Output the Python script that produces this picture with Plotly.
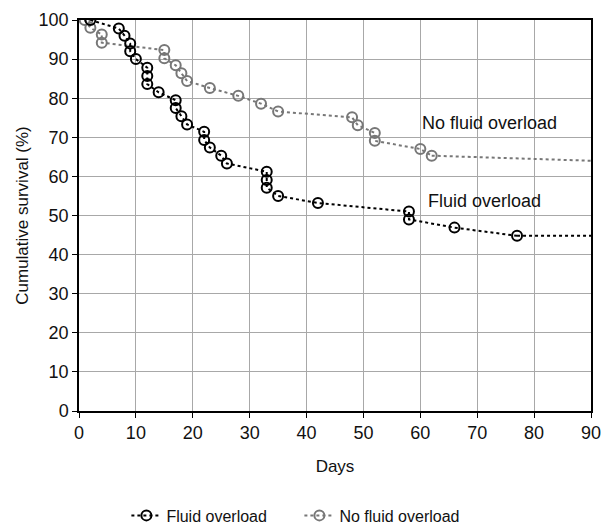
import plotly.graph_objects as go

# Fluid overload series (days, cumulative survival %)
fo_days = [2, 7, 8, 9, 9, 10, 12, 12, 12, 14, 17, 17, 18, 19, 22, 22, 23, 25, 26,
           33, 33, 33, 35, 42, 58, 58, 66, 77, 90]
fo_surv = [100, 97.8, 96, 94, 92, 90, 87.8, 85.7, 83.6, 81.5, 79.5, 77.5, 75.4, 73.3,
           71.4, 69.3, 67.4, 65.3, 63.3, 61.2, 59.1, 57.1, 55, 53.2, 51, 49, 46.9, 44.8, 44.8]

# No fluid overload series
nfo_days = [1, 2, 4, 4, 15, 15, 17, 18, 19, 23, 28, 32, 35, 48, 49, 52, 52, 60, 62, 90]
nfo_surv = [100, 98, 96.3, 94.2, 92.3, 90.2, 88.4, 86.4, 84.4, 82.6, 80.6, 78.6, 76.6,
            75.1, 73.1, 71.1, 69.1, 67, 65.3, 64]

x_ticks = [0, 10, 20, 30, 40, 50, 60, 70, 80, 90]
y_ticks = [0, 10, 20, 30, 40, 50, 60, 70, 80, 90, 100]

FONT = "Liberation Sans, Arial, sans-serif"
BLACK = "#000000"
GRAY = "#777777"

fig = go.Figure()

def add_series(days, surv, name, color, rank):
    # tail segment (line only, from last marker to end of follow-up)
    fig.add_trace(go.Scatter(
        x=days[-2:], y=surv[-2:], mode="lines", showlegend=False, hoverinfo="skip",
        line=dict(color=color, width=2, dash="dot")))
    fig.add_trace(go.Scatter(
        x=days[:-1], y=surv[:-1], mode="lines+markers", name=name, legendrank=rank,
        line=dict(color=color, width=2, dash="dot"),
        marker=dict(symbol="circle-open", size=10, color=color, line=dict(width=2, color=color))))

add_series(nfo_days, nfo_surv, "No fluid overload", GRAY, 2)
add_series(fo_days, fo_surv, "Fluid overload", BLACK, 1)

fig.add_annotation(x=72.2, y=73.7, text="No fluid overload", showarrow=False,
                   font=dict(family=FONT, size=18, color="#111"))
fig.add_annotation(x=71.2, y=53.8, text="Fluid overload", showarrow=False,
                   font=dict(family=FONT, size=18, color="#111"))

fig.update_layout(
    width=611, height=526,
    margin=dict(l=79, r=10, t=19, b=115),
    paper_bgcolor="white", plot_bgcolor="white",
    font=dict(family=FONT, size=16, color="#111"),
    showlegend=True,
    legend=dict(orientation="h", xref="container", yref="container",
                x=0.49, xanchor="center", y=0.02, yanchor="middle",
                font=dict(family=FONT, size=16), itemwidth=30,
                entrywidth=128, traceorder="normal"),
    xaxis=dict(range=[0, 90], tickvals=x_ticks, showgrid=True, gridcolor="#a8a8a8",
               gridwidth=1, showline=True, linecolor=BLACK, linewidth=1.5, mirror=True,
               ticks="outside", ticklen=5, tickcolor=BLACK, zeroline=False,
               title=dict(text="Days", standoff=18, font=dict(size=17)),
               tickfont=dict(size=18)),
    yaxis=dict(range=[0, 100], tickvals=y_ticks, showgrid=True, gridcolor="#a8a8a8",
               gridwidth=1, showline=True, linecolor=BLACK, linewidth=1.5, mirror=True,
               ticks="outside", ticklen=5, tickcolor=BLACK, zeroline=False,
               title=dict(text="Cumulative survival (%)", standoff=6, font=dict(size=17)),
               tickfont=dict(size=18)),
)

fig.write_html("out.html")
